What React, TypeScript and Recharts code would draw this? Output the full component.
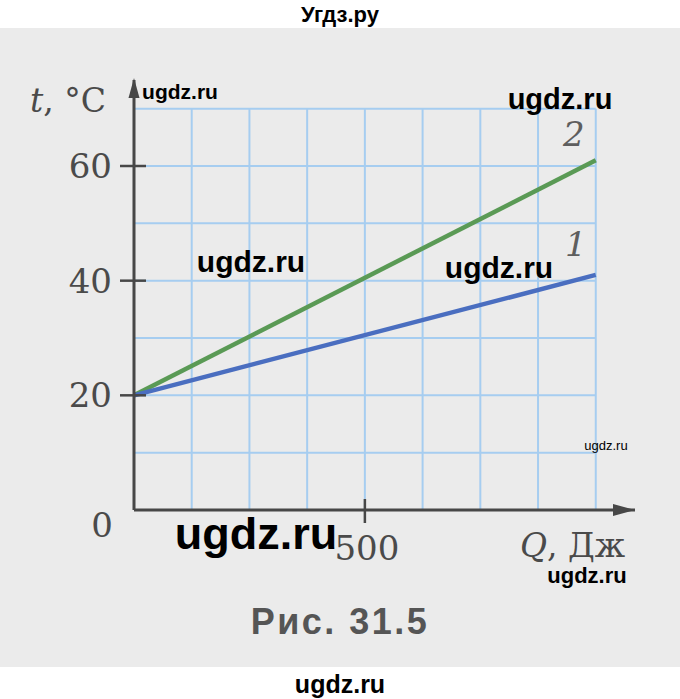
import React from "react";
import { LineChart, Line, XAxis, YAxis, ReferenceLine, ReferenceDot, Label } from "recharts";

const heat = [0, 1000];
const body1 = [20, 41];
const body2 = [20, 61];
const xTicks = [500];
const yTicks = [0, 20, 40, 60];
const gridX = [125, 250, 375, 500, 625, 750, 875, 1000];
const gridY = [10, 20, 30, 40, 50, 60, 70];
const seriesNames = ["1", "2"];

const X_MAX = 1085;
const Y_MAX = 75;
const GRID_X_END = 1000;
const GRID_Y_END = 70;

const data = heat.map((q, i) => ({ q, t1: body1[i], t2: body2[i] }));

const AXIS = "#474747";
const TXT = "#4a4a4a";
const GRID = "#a6cdf0";
const SERIF = "'DejaVu Serif', serif";
const SANS = "'Liberation Sans', Arial, sans-serif";

const XTick = (props: any) => {
  const { x, y, payload } = props;
  return (
    <g>
      <line x1={x} x2={x} y1={y - 11} y2={y + 13} stroke={AXIS} strokeWidth={2.5} />
      <text x={x + 2} y={y + 50} textAnchor="middle" fontFamily={SERIF} fontSize={34} fill={TXT}>
        {payload.value}
      </text>
    </g>
  );
};

const YTick = (props: any) => {
  const { x, y, payload } = props;
  if (payload.value === 0) {
    return (
      <text x={x - 21} y={y + 27} textAnchor="end" fontFamily={SERIF} fontSize={34} fill={TXT}>
        0
      </text>
    );
  }
  return (
    <g>
      <line x1={x - 14} x2={x + 12} y1={y} y2={y} stroke={AXIS} strokeWidth={2.5} />
      <text x={x - 22} y={y + 12} textAnchor="end" fontFamily={SERIF} fontSize={34} fill={TXT}>
        {payload.value}
      </text>
    </g>
  );
};

const ArrowRight = (props: any) => {
  const { cx, cy } = props;
  return <polygon points={`${cx},${cy} ${cx - 22},${cy - 6} ${cx - 22},${cy + 6}`} fill={AXIS} />;
};
const ArrowUp = (props: any) => {
  const { cx, cy } = props;
  return <polygon points={`${cx},${cy - 2} ${cx - 5.5},${cy + 18} ${cx + 5.5},${cy + 18}`} fill={AXIS} />;
};

const seriesLabel = (name: string, dx: number, dy: number) => (props: any) => {
  const { viewBox } = props;
  const cx = viewBox.x + (viewBox.width || 0) / 2;
  const cy = viewBox.y + (viewBox.height || 0) / 2;
  return (
    <text x={cx + dx} y={cy + dy} textAnchor="middle" fontFamily={SERIF} fontStyle="italic" fontSize={34} fill="#5e5e5e">
      {name}
    </text>
  );
};

const YTitle = (props: any) => (
  <text x={30} y={112} fontFamily={SERIF} fontSize={33} fill={TXT}>
    <tspan fontStyle="italic">t</tspan>
    <tspan>, °C</tspan>
  </text>
);
const XTitle = (props: any) => (
  <text x={520} y={557} fontFamily={SERIF} fontSize={33} fill={TXT}>
    <tspan fontStyle="italic">Q</tspan>
    <tspan>, Дж</tspan>
  </text>
);

const marks = [
  { text: "ugdz.ru", x: 180, y: 91, size: 21 },
  { text: "ugdz.ru", x: 560, y: 99, size: 29 },
  { text: "ugdz.ru", x: 251, y: 262, size: 30 },
  { text: "ugdz.ru", x: 499, y: 268, size: 30 },
  { text: "ugdz.ru", x: 606, y: 445, size: 13, normal: true },
  { text: "ugdz.ru", x: 256, y: 533, size: 45 },
  { text: "ugdz.ru", x: 587, y: 576, size: 22 },
  { text: "ugdz.ru", x: 340, y: 684, size: 25 },
  { text: "Угдз.ру", x: 340, y: 15, size: 22 },
];

export default function App() {
  return (
    <div style={{ position: "fixed", left: 0, top: 0, width: 680, height: 699, background: "#ffffff", overflow: "hidden" }}>
      <div style={{ position: "absolute", left: 0, top: 28, width: 680, height: 639, background: "#ebebeb" }} />
      <div style={{ position: "absolute", left: 0, top: 0 }}>
        <LineChart width={680} height={699} data={data} margin={{ top: 80, right: 45, bottom: 0, left: 0 }}>
          {gridX.map((g) => (
            <ReferenceLine key={"gx" + g} segment={[{ x: g, y: 0 }, { x: g, y: GRID_Y_END }]} stroke={GRID} strokeWidth={2} />
          ))}
          {gridY.map((g) => (
            <ReferenceLine key={"gy" + g} segment={[{ x: 0, y: g }, { x: GRID_X_END, y: g }]} stroke={GRID} strokeWidth={2} />
          ))}
          <XAxis
            type="number"
            dataKey="q"
            domain={[0, X_MAX]}
            ticks={xTicks}
            height={189}
            axisLine={{ stroke: AXIS, strokeWidth: 3 }}
            tickLine={false}
            tickSize={0}
            tickMargin={0}
            tick={<XTick />}
            interval={0}
          >
            <Label content={<XTitle />} />
          </XAxis>
          <YAxis
            type="number"
            domain={[0, Y_MAX]}
            ticks={yTicks}
            width={134}
            axisLine={{ stroke: AXIS, strokeWidth: 3 }}
            tickLine={false}
            tickSize={0}
            tickMargin={0}
            tick={<YTick />}
            interval={0}
          >
            <Label content={<YTitle />} />
          </YAxis>
          <Line dataKey="t2" stroke="#5a9a55" strokeWidth={4.5} dot={false} isAnimationActive={false} />
          <Line dataKey="t1" stroke="#4a6ec0" strokeWidth={4.5} dot={false} isAnimationActive={false} />
          <ReferenceDot x={heat[1]} y={body2[1]} r={0} stroke="none" fill="none">
            <Label content={seriesLabel(seriesNames[1], -22, -14)} />
          </ReferenceDot>
          <ReferenceDot x={heat[1]} y={body1[1]} r={0} stroke="none" fill="none">
            <Label content={seriesLabel(seriesNames[0], -20, -19)} />
          </ReferenceDot>
          <ReferenceDot x={X_MAX} y={0} shape={<ArrowRight />} />
          <ReferenceDot x={0} y={Y_MAX} shape={<ArrowUp />} />
        </LineChart>
      </div>
      <div
        style={{
          position: "absolute",
          left: 340,
          top: 622,
          transform: "translate(-50%, -50%)",
          fontFamily: SANS,
          fontWeight: 700,
          fontSize: 36,
          letterSpacing: 2.5,
          color: "#555",
          whiteSpace: "nowrap",
          lineHeight: 1,
        }}
      >
        Рис. 31.5
      </div>
      {marks.map((m, i) => (
        <div
          key={i}
          style={{
            position: "absolute",
            left: m.x,
            top: m.y,
            transform: "translate(-50%, -50%)",
            fontFamily: SANS,
            fontWeight: m.normal ? 400 : 700,
            fontSize: m.size,
            color: "#000",
            whiteSpace: "nowrap",
            lineHeight: 1,
          }}
        >
          {m.text}
        </div>
      ))}
    </div>
  );
}
